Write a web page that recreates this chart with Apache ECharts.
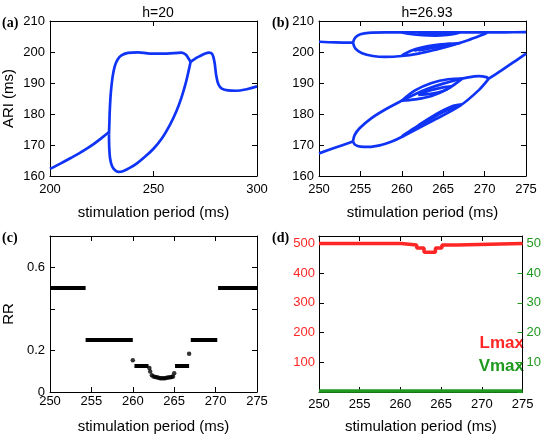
<!DOCTYPE html>
<html><head><meta charset="utf-8">
<script src="https://cdn.jsdelivr.net/npm/echarts@6/dist/echarts.min.js"></script>
<style>html,body{margin:0;padding:0;background:#fff}#c{width:544px;height:435px}</style>
</head><body><div id="c"></div>
<script>
// ---------- Panel (a): h=20 ----------
const aLeftBranch = [[200,162.3],[205,164.0],[210,165.8],[215,167.7],[220,169.8],[225,172.3],[228.5,174.2]];
const aUpperBranch = [[228.5,173.5],[228.7,177.5],[228.9,181.5],[229.4,187.0],[230.2,191.8],[231.2,195.2],[232.6,197.5],[234.5,198.9],[237.7,199.7],[242.5,199.9],[248.3,199.5],[256.4,199.5],[263.6,199.8],[265.7,199.1],[267.0,197.8],[267.9,196.8]];
const aLowerBranch = [[228.5,173.5],[228.6,169.5],[229.0,165.8],[229.9,163.3],[231.3,161.9],[233.2,161.3],[235.5,161.6],[238.5,162.6],[242,164.1],[246,166.3],[250,168.8],[254,172.1],[258,176.6],[261,180.8],[263.5,185.3],[265.5,189.8],[267.0,194.0],[267.9,196.8]];
const aTailBranch = [[267.9,196.8],[270,197.8],[272.5,198.7],[275,199.5],[276.8,199.8],[278.4,199.3],[279.5,196.6],[280.3,192.4],[281.4,189.5],[283,188.2],[286,187.6],[290,187.5],[295,188.0],[300,188.9]];

// ---------- Panel (b): h=26.93 ----------
const bTopLeft = [[250,203.3],[252,203.1],[254.1,203.0]];
const bTopOuterUpper = [[254.1,203.0],[254.4,204.7],[255.0,205.7],[256,206.2],[258,206.3],[262,206.3],[266,206.3],[270,206.3],[272.5,206.35],[275,206.4]];
const bTopOuterLower = [[254.1,203.0],[254.4,201.1],[255.2,199.6],[256.5,198.7],[258,198.4],[260,198.7],[262,199.5],[264,200.7],[266,202.1],[268,203.8],[269.5,205.3],[270.3,206.2]];
const bTopInnerLoop = [[260,198.9],[261.2,200.5],[262.5,201.5],[264,202.2],[265.6,202.6],[267.1,202.9]];
const bTopInner2 = [[261.5,200.4],[263,201.5],[264.5,202.2],[266,202.6]];
const bTopInner3 = [[262,200.5],[263.5,201.2],[265,201.9],[266.5,202.5]];
const bTopSmallLoop = [[260,206.3],[261,205.8],[262.5,205.4],[264,205.3],[265.5,205.5],[266.5,205.9],[267,206.3]];
const bTopSmall2 = [[262,206.1],[263.5,205.7],[265,205.7],[266.3,206.2]];
const bLowLeft = [[250,167.3],[252,169.2],[254.1,171.1]];
const bLowOuterUpper = [[254.1,171.1],[254.3,173.2],[254.9,175.4],[256.3,178.6],[257.9,181.3],[260,184.3],[261.6,186.4],[263.2,188.2],[265,189.8],[266.5,190.9],[268,191.8],[269.3,192.2],[270.2,191.9],[270.5,191.4]];
const bLowOuterLower = [[254.1,171.1],[254.4,170.0],[255,169.5],[256,169.4],[257.5,170.0],[258.8,171.1],[260,172.6],[263.2,177.1],[267.0,182.6],[269.3,187.7],[270.5,191.4]];
const bLowRight = [[270.5,191.4],[272,194.0],[273.5,196.7],[275,199.5]];
const bLowInnerTop = [[260,184.3],[261.6,187.6],[263.6,190.0],[265.6,191.2],[267.3,191.4]];
const bLowInnerBottom = [[260,184.3],[261.6,184.7],[263.6,185.8],[265.6,188.2],[267.3,191.4]];
const bLowSmallTop = [[262,186.2],[263.5,187.7],[265,188.6],[266,188.9]];
const bLowSmallBottom = [[262,186.2],[263.5,186.5],[265,187.4],[266,188.9]];
const bLowNest1 = [[260,172.8],[261.5,175.4],[263.5,178.7],[265.5,181.7],[267.2,183.0]];
const bLowNest2 = [[261,174.4],[263,177.6],[265,180.6],[267.2,183.0]];
const bLowNest3 = [[262,176.3],[264,179.7],[266,182.4],[267.2,183.0]];

// ---------- Panel (c): RR ----------
const rrSegStart = [250, 254.3, 260.2, 265.1, 267.0, 270.3];
const rrSegEnd   = [254.3, 260.0, 261.9, 266.8, 270.2, 275];
const rrSegValue = [0.5, 0.25, 0.125, 0.125, 0.25, 0.5];
const rrDotX = [260.0, 262.0, 262.1, 262.3, 262.5, 262.7, 262.9, 263.1, 263.3, 263.5, 263.7, 263.9, 264.1, 264.3, 264.5, 264.7, 264.85, 265.0, 266.8];
const rrDotY = [0.153, 0.115, 0.099, 0.080, 0.074, 0.072, 0.071, 0.069, 0.066, 0.066, 0.066, 0.066, 0.068, 0.070, 0.071, 0.072, 0.074, 0.090, 0.184];

// ---------- Panel (d): Lmax / Vmax ----------
const lmaxX = [250, 260.1, 262.0, 262.9, 264.3, 265.1, 266.9, 275];
const lmaxY = [500, 495, 485, 470, 485, 495, 500, 500];
const vmaxX = [250, 275];
const vmaxY = [0.3, 0.3];

// ---------- tick labels ----------
const aXTicks = [200, 250, 300];
const abYTicks = [160, 170, 180, 190, 200, 210];
const cdXTicks = [250, 255, 260, 265, 270, 275];
const cYTickLabels = ['0', '0.2', '', '0.6'];
const dLeftTicks = [100, 200, 300, 400, 500];
const dRightTicks = [10, 20, 30, 40, 50];

const BLUE = '#1034f5', RED = '#ff2626', GREEN = '#1f9a1f';
const FONT = 'Liberation Sans, Arial, sans-serif';

const grids = [
  {left: 50, top: 21, width: 207, height: 155},
  {left: 319, top: 21, width: 207, height: 155},
  {left: 50, top: 236, width: 207, height: 159},
  {left: 319, top: 236, width: 208, height: 158}
];

function tickStyle(show) {
  return {show: show, inside: true, length: 5, lineStyle: {color: '#000', width: 1}};
}
function xAx(grid, min, max, interval, top, name, labelMargin) {
  return {
    type: 'value', gridIndex: grid, min: min, max: max, interval: interval,
    position: top ? 'top' : 'bottom',
    axisLine: {show: true, onZero: false, lineStyle: {color: '#000', width: 1}},
    axisTick: tickStyle(true),
    splitLine: {show: false},
    axisLabel: {show: !top, color: '#000', fontSize: 13, fontFamily: FONT, margin: labelMargin || 6},
    name: top ? '' : name, nameLocation: 'middle', nameGap: 29,
    nameTextStyle: {color: '#000', fontSize: 15, fontFamily: FONT}
  };
}
function yAx(grid, min, max, interval, right, opts) {
  const o = Object.assign({
    type: 'value', gridIndex: grid, min: min, max: max, interval: interval,
    position: right ? 'right' : 'left',
    axisLine: {show: true, onZero: false, lineStyle: {color: '#000', width: 1}},
    axisTick: tickStyle(true),
    splitLine: {show: false},
    axisLabel: {show: !right, color: '#000', fontSize: 13, fontFamily: FONT, margin: 5},
    nameLocation: 'middle', nameGap: 34,
    nameTextStyle: {color: '#000', fontSize: 15, fontFamily: FONT}
  }, opts || {});
  return o;
}

const xAxis = [
  xAx(0, 200, 300, 50, false, 'stimulation period (ms)', 7),
  xAx(0, 200, 300, 50, true),
  xAx(1, 250, 275, 5, false, 'stimulation period (ms)', 7),
  xAx(1, 250, 275, 5, true),
  xAx(2, 250, 275, 5, false, 'stimulation period (ms)', 3),
  xAx(2, 250, 275, 5, true),
  xAx(3, 250, 275, 5, false, 'stimulation period (ms)', 6),
  xAx(3, 250, 275, 5, true)
];
xAxis[4].nameGap = 27; xAxis[6].nameGap = 27;

const yAxis = [
  yAx(0, 160, 210, 10, false, {name: 'ARI (ms)'}),
  yAx(0, 160, 210, 10, true),
  yAx(1, 160, 210, 10, false),
  yAx(1, 160, 210, 10, true),
  yAx(2, 0, 0.75, 0.2, false, {name: 'RR', nameGap: 34,
    axisLabel: {show: true, color: '#000', fontSize: 13, fontFamily: FONT, margin: 5, showMaxLabel: false,
      formatter: function (v) { const i = Math.round(v / 0.2); return cYTickLabels[i] !== undefined ? cYTickLabels[i] : ''; }}}),
  yAx(2, 0, 0.75, 0.2, true, {axisLabel: {show: false, showMaxLabel: false}}),
  yAx(3, 0, 525, 100, false, {
    axisLabel: {show: true, color: RED, fontSize: 13, fontFamily: FONT, margin: 4, showMaxLabel: false,
      formatter: function (v) { return dLeftTicks.indexOf(v) >= 0 ? String(v) : ''; }}}),
  yAx(3, 0, 52.5, 10, true, {
    axisTick: {show: true, inside: true, length: 5, lineStyle: {color: GREEN}},
    axisLabel: {show: true, color: GREEN, fontSize: 13, fontFamily: FONT, margin: 4, showMaxLabel: false,
      formatter: function (v) { return dRightTicks.indexOf(v) >= 0 ? String(v) : ''; }}})
];

function blueLine(data, xi, yi) {
  return {type: 'line', xAxisIndex: xi, yAxisIndex: yi, data: data, showSymbol: false, smooth: 0.35,
    lineStyle: {color: BLUE, width: 2.7}, silent: true, animation: false, z: 3};
}

const series = [];
[aLeftBranch, aUpperBranch, aLowerBranch, aTailBranch].forEach(d => series.push(blueLine(d, 0, 0)));
[bTopLeft, bTopOuterUpper, bTopOuterLower, bTopInnerLoop, bTopInner2, bTopInner3, bTopSmallLoop, bTopSmall2,
 bLowLeft, bLowOuterUpper, bLowOuterLower, bLowRight, bLowInnerTop, bLowInnerBottom, bLowSmallTop, bLowSmallBottom,
 bLowNest1, bLowNest2, bLowNest3].forEach(d => series.push(blueLine(d, 2, 2)));

rrSegValue.forEach((v, i) => {
  series.push({type: 'line', xAxisIndex: 4, yAxisIndex: 4, showSymbol: false, animation: false,
    data: [[rrSegStart[i], v], [rrSegEnd[i], v]], lineStyle: {color: '#000', width: 4}});
});
series.push({type: 'scatter', xAxisIndex: 4, yAxisIndex: 4, animation: false, symbolSize: 4.5,
  itemStyle: {color: '#000'}, data: rrDotX.map((x, i) => [x, rrDotY[i]])});

series.push({type: 'line', xAxisIndex: 6, yAxisIndex: 6, step: 'end', showSymbol: false, animation: false,
  data: lmaxX.map((x, i) => [x, lmaxY[i]]), lineStyle: {color: RED, width: 3.5}});
series.push({type: 'line', xAxisIndex: 6, yAxisIndex: 7, showSymbol: false, animation: false,
  data: vmaxX.map((x, i) => [x, vmaxY[i]]), lineStyle: {color: GREEN, width: 3.5}});

const panelLabelStyle = {fontFamily: 'Liberation Serif, Times New Roman, serif', fontWeight: 'bold', fontSize: 14, fill: '#000'};
const graphic = [
  {type: 'text', left: 2, top: 16, style: Object.assign({text: '(a)'}, panelLabelStyle)},
  {type: 'text', left: 272, top: 16, style: Object.assign({text: '(b)'}, panelLabelStyle)},
  {type: 'text', left: 2, top: 231, style: Object.assign({text: '(c)'}, panelLabelStyle)},
  {type: 'text', left: 272, top: 231, style: Object.assign({text: '(d)'}, panelLabelStyle)},
  {type: 'text', right: 20, top: 335, style: {text: 'Lmax', fill: RED, fontFamily: FONT, fontWeight: 'bold', fontSize: 17}},
  {type: 'text', right: 20, top: 358, style: {text: 'Vmax', fill: GREEN, fontFamily: FONT, fontWeight: 'bold', fontSize: 17}}
];

const title = [
  {text: 'h=20', left: 153, top: 1, textAlign: 'center', textStyle: {fontSize: 14, fontWeight: 'normal', color: '#000', fontFamily: FONT}},
  {text: 'h=26.93', left: 422, top: 1, textAlign: 'center', textStyle: {fontSize: 14, fontWeight: 'normal', color: '#000', fontFamily: FONT}}
];

const chart = echarts.init(document.getElementById('c'), null, {renderer: 'canvas'});
chart.setOption({animation: false, backgroundColor: '#fff', title, grid: grids, xAxis, yAxis, series, graphic});
</script>
</body></html>
